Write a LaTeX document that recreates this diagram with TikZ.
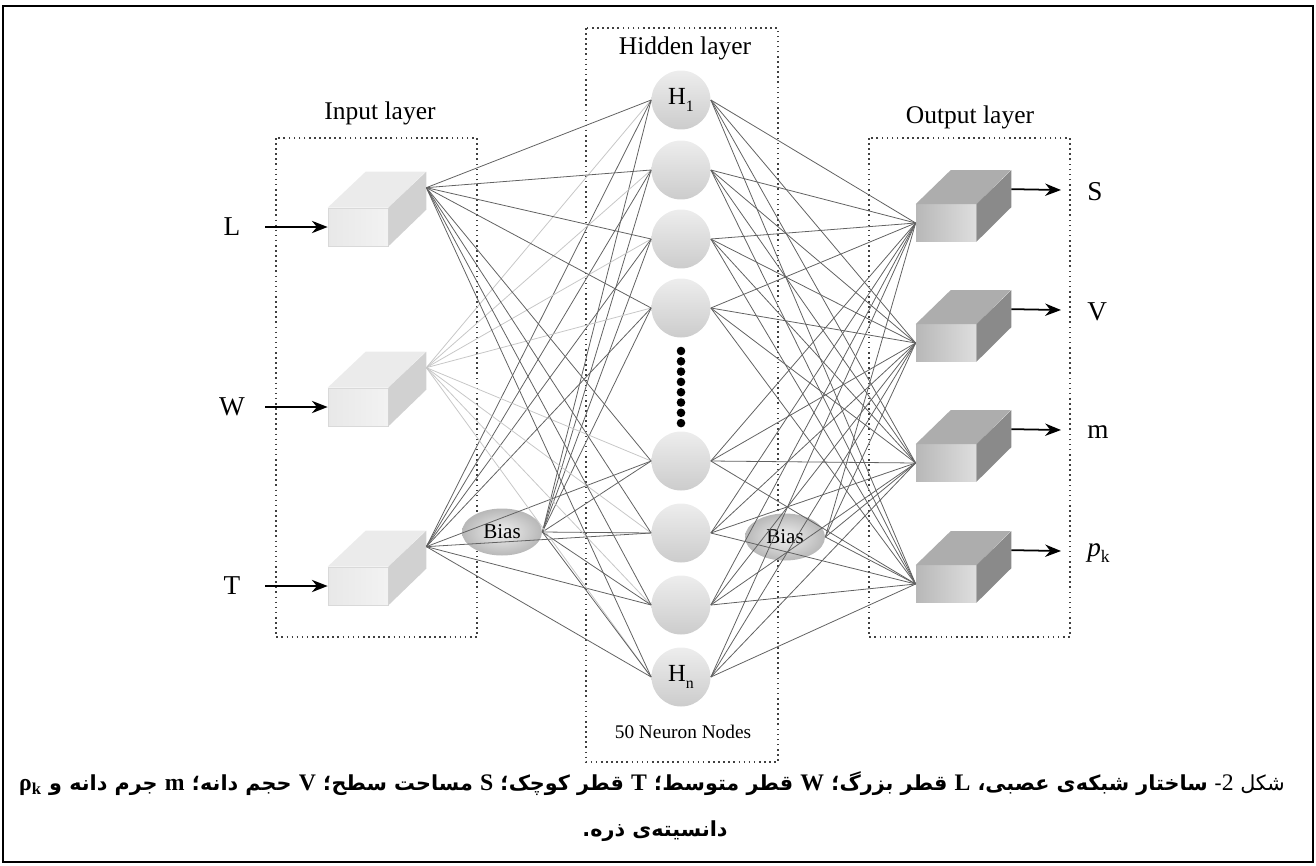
\documentclass[tikz,border=0pt]{standalone}
\usepackage{fontspec}
\setmainfont{Liberation Serif}
\newfontfamily\persianfont[Script=Arabic]{DejaVu Sans}
\TeXXeTstate=1
\usepackage{tikz}
\usetikzlibrary{arrows.meta,positioning,calc,shapes.geometric}
\newcommand{\capltr}[1]{{\rmfamily\fontsize{13.5}{15}\selectfont #1}}

\begin{document}
\begin{tikzpicture}[
    x=0.02cm, y=-0.02cm,
    layerbox/.style={draw=black!75, dotted, line width=0.9pt},
    layer label/.style={font=\fontsize{14.5}{17}\selectfont},
    io label/.style={font=\fontsize{15.5}{18}\selectfont, inner sep=0pt},
    in box/.style={rectangle, minimum width=1.2cm, minimum height=0.76cm, inner sep=0pt,
        draw=black!15, left color=black!9, right color=black!5},
    out box/.style={rectangle, minimum width=1.2cm, minimum height=0.74cm, inner sep=0pt,
        left color=black!28, right color=black!13},
    neuron/.style={circle, minimum size=1.18cm, inner sep=0pt, top color=black!7,
        bottom color=black!20, font=\fontsize{14}{16}\selectfont},
    bias/.style={ellipse, minimum width=1.6cm, minimum height=0.94cm, inner sep=0pt,
        inner color=black!6, outer color=black!28, font=\fontsize{12}{14}\selectfont},
    link/.style={draw=black!62, line width=0.45pt},
    weak link/.style={draw=black!22, line width=0.45pt},
    feed/.style={-{Stealth[length=9pt,width=7pt]}, line width=1pt},
    caption/.style={font=\persianfont\fontsize{11.8}{15}\selectfont, inner sep=0pt},
]
\useasboundingbox (0,0) rectangle (1316,866);
\draw[line width=1.4pt] (3,6) rectangle (1313,862);

% layers
\draw[layerbox] (276,138) rectangle (477,637);
\draw[layerbox] (586,28) rectangle (778,762);
\draw[layerbox] (869,138) rectangle (1070,637);
\node[layer label] (inTitle) at (380,113) {Input layer};
\node[layer label] (hidTitle) at (685,48) {Hidden layer};
\node[layer label] (outTitle) at (970,117) {Output layer};
\node[font=\fontsize{11}{13}\selectfont] (hidNote) at (683,732) {50 Neuron Nodes};

% bias
\node[bias] (b1) at (502,532) {Bias};
\node[bias] (b2) at (785,537) {Bias};

% input boxes
\foreach \n/\y in {L/227, W/407, T/586} {
  \node[in box] (in\n) at (358,\y) {};
  \fill[black!8] (in\n.north west) -- ++(38,-36) -- ++(60,0) -- (in\n.north east) -- cycle;
  \fill[black!18] (in\n.north east) -- ++(38,-36) -- ++(0,38) -- (in\n.south east) -- cycle;
  \coordinate (src\n) at ($(in\n.north east)+(38,-20)$);
  \coordinate (feed\n) at (265,\y);
  \node[io label] (lab\n) at (232,\y) {\n};
  \draw[feed] (feed\n) -- (in\n.west);
}

% output boxes
\foreach \n/\y/\t in {S/223/S, V/343/V, m/463/m,
    p/584/{\textit{p}\raisebox{-0.5ex}{\fontsize{10}{10}\selectfont k}}} {
  \node[out box] (out\n) at (946,\y) {};
  \fill[black!32] (out\n.north west) -- ++(35,-34) -- ++(60,0) -- (out\n.north east) -- cycle;
  \fill[black!46] (out\n.north east) -- ++(35,-34) -- ++(0,37) -- (out\n.south east) -- cycle;
  \coordinate (tip\n) at (1061,\y-33);
  \node[io label, anchor=west] (lab\n) at (1087,\y-31) {\t};
  \draw[feed] ($(out\n.north east)+(35,-15)$) -- (tip\n);
}

% hidden layer
\foreach \j/\y in {1/100, 2/170, 3/239, 4/308, 5/461, 6/533, 7/605, 8/677}
  \node[neuron] (h\j) at (681,\y) {};
\node[font=\fontsize{14}{16}\selectfont] at (h1) {H\raisebox{-0.6ex}{\fontsize{9}{9}\selectfont 1}};
\node[font=\fontsize{14}{16}\selectfont] at (h8) {H\raisebox{-0.6ex}{\fontsize{9}{9}\selectfont n}};
\foreach \k in {0,...,7}
  \fill (681,351+\k*10.3) circle (4.3);

% weights
\foreach \j in {1,...,8} {
  \draw[weak link] (srcW) -- (h\j.west);
  \draw[link] (srcL) -- (h\j.west);
  \draw[link] (srcT) -- (h\j.west);
  \draw[link] (b1.east) -- (h\j.west);
  \foreach \n in {S,V,m,p}
    \draw[link] (h\j.east) -- (out\n.west);
}
\foreach \n in {S,V,m,p}
  \draw[link] (b2.east) -- (out\n.west);

% caption
\node[caption] (cap1) at (652,784)
  {\beginR شکل \capltr{2}- {\bfseries ساختار شبکه‌ی عصبی، \capltr{L} قطر بزرگ؛ \capltr{W} قطر متوسط؛ \capltr{T} قطر کوچک؛ \capltr{S} مساحت سطح؛ \capltr{V} حجم دانه؛ \capltr{m} جرم دانه و \beginL\capltr{ρ\textsubscript{k}}\endL}\endR};
\node[caption, font=\persianfont\bfseries\fontsize{11.8}{15}\selectfont] (cap2) at (655,831)
  {\beginR دانسیته‌ی ذره.\endR};
\end{tikzpicture}
\end{document}
